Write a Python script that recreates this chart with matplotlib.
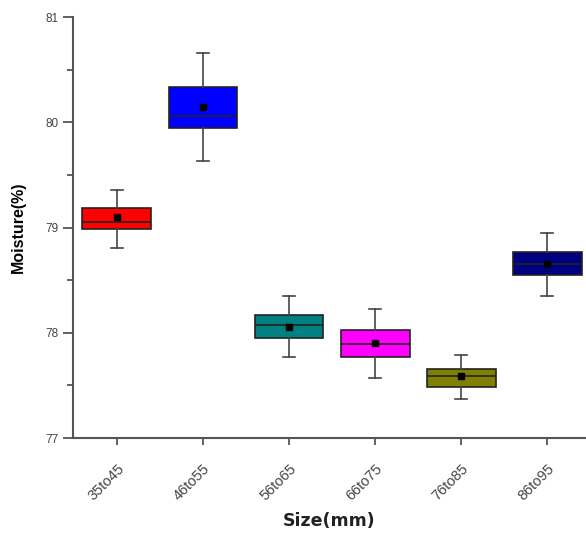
import matplotlib
matplotlib.use('Agg')
import matplotlib.pyplot as plt
from matplotlib.ticker import MultipleLocator
from matplotlib.transforms import ScaledTranslation

plt.rcParams['font.family'] = ['Liberation Sans', 'DejaVu Sans']

sizes = ['35to45', '46to55', '56to65', '66to75', '76to85', '86to95']
whislo = [78.81, 79.63, 77.77, 77.57, 77.37, 78.35]
q1 = [78.99, 79.95, 77.95, 77.77, 77.49, 78.55]
med = [79.05, 80.06, 78.07, 77.89, 77.59, 78.65]
mean = [79.10, 80.15, 78.06, 77.90, 77.59, 78.65]
q3 = [79.19, 80.34, 78.17, 78.03, 77.66, 78.77]
whishi = [79.36, 80.66, 78.35, 78.23, 77.79, 78.95]
colors = ['#ff0000', '#0000ff', '#008080', '#ff00ff', '#808000', '#000080']

stats = []
for i in range(len(sizes)):
    stats.append(dict(whislo=whislo[i], q1=q1[i], med=med[i], mean=mean[i],
                      q3=q3[i], whishi=whishi[i], fliers=[], label=sizes[i]))

fig = plt.figure(figsize=(5.86, 5.33), dpi=100)
ax = fig.add_axes([0.1246, 0.178, 0.8754, 0.79])

bp = ax.bxp(stats, positions=range(1, 7), widths=0.8, patch_artist=True,
            showmeans=True,
            boxprops=dict(edgecolor='#222222', linewidth=1.2),
            medianprops=dict(color='#222222', linewidth=1.2),
            whiskerprops=dict(color='#444444', linewidth=1.2),
            capprops=dict(color='#444444', linewidth=1.2),
            meanprops=dict(marker='s', markerfacecolor='black',
                           markeredgecolor='black', markersize=5))
for patch, c in zip(bp['boxes'], colors):
    patch.set_facecolor(c)
for cap in bp['caps']:
    xs = cap.get_xdata()
    m = (xs[0] + xs[1]) / 2
    cap.set_xdata([m - 0.07, m + 0.07])

ax.set_xlim(0.49, 6.45)
ax.set_ylim(77, 81)
ax.yaxis.set_major_locator(MultipleLocator(1))
ax.yaxis.set_minor_locator(MultipleLocator(0.5))
ax.set_xticks(range(1, 7))
ax.set_xticklabels(sizes, rotation=45, ha='right', rotation_mode='anchor')
# nudge rotated labels left so their ends sit under the ticks
shift = ScaledTranslation(-5 / 72, 0, fig.dpi_scale_trans)
for lab in ax.get_xticklabels():
    lab.set_transform(lab.get_transform() + shift)

for s in ['top', 'right']:
    ax.spines[s].set_visible(False)
for s in ['left', 'bottom']:
    ax.spines[s].set_color('#555555')
    ax.spines[s].set_linewidth(1.5)
ax.tick_params(axis='both', colors='#555555', labelcolor='#444444', labelsize=8.5, width=1.3)
ax.tick_params(axis='y', which='major', length=7)
ax.tick_params(axis='y', which='minor', length=4, width=1.3, colors='#555555')
ax.tick_params(axis='x', length=5, pad=12, labelsize=10.5)

ax.set_ylabel('Moisture(%)', fontsize=11.5, fontweight='bold', labelpad=14)
ax.set_xlabel('Size(mm)', fontsize=12.5, fontweight='bold', labelpad=6,
              family='DejaVu Sans', color='#222222')

fig.savefig('out.png', dpi=100)
